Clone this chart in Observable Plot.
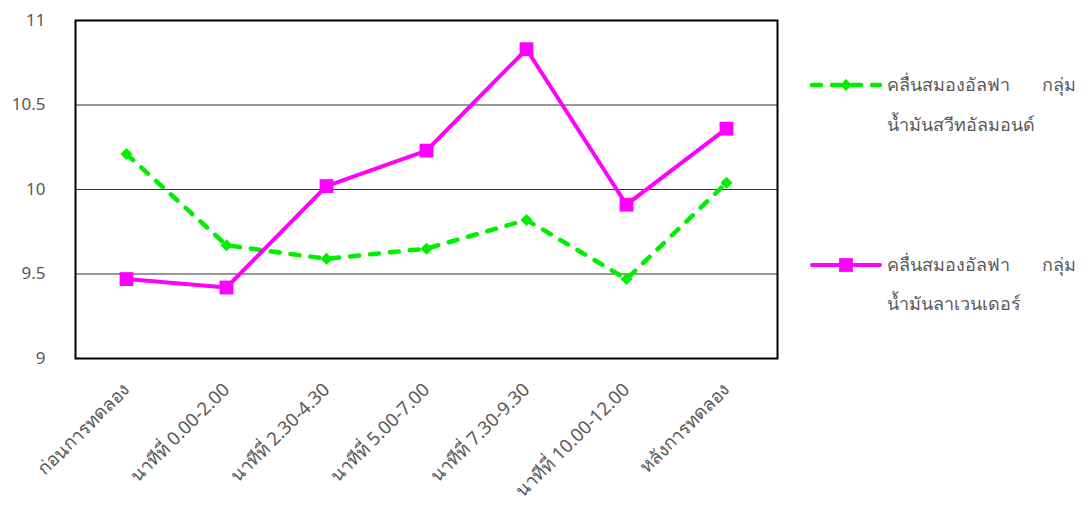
<!DOCTYPE html>
<html>
<head>
<meta charset="utf-8">
<script src="https://cdn.jsdelivr.net/npm/d3@7"></script>
<script src="https://cdn.jsdelivr.net/npm/@observablehq/plot@0.6"></script>
<style>
  html, body { margin: 0; padding: 0; background: #fff; }
  #wrap { position: relative; width: 1086px; height: 506px; font-family: "Noto Sans", Tahoma, sans-serif; }
  #legend { position: absolute; left: 0; top: 0; }
</style>
</head>
<body>
<div id="wrap"></div>
<script>
// Time periods of the session
const periods = [
  "ก่อนการทดลอง",
  "นาทีที่ 0.00-2.00",
  "นาทีที่ 2.30-4.30",
  "นาทีที่ 5.00-7.00",
  "นาทีที่ 7.30-9.30",
  "นาทีที่ 10.00-12.00",
  "หลังการทดลอง"
];

// Mean alpha brain-wave values per group
const almondValues   = [10.21, 9.67, 9.59, 9.65, 9.82, 9.47, 10.04];
const lavenderValues = [9.47, 9.42, 10.02, 10.23, 10.83, 9.91, 10.36];

const seriesNames = [
  ["คลื่นสมองอัลฟา", "กลุ่ม", "น้ำมันสวีทอัลมอนด์"],
  ["คลื่นสมองอัลฟา", "กลุ่ม", "น้ำมันลาเวนเดอร์"]
];

const yTicks = [9, 9.5, 10, 10.5, 11];
const gridValues = [9.5, 10, 10.5];

const GREEN = "#00ee00";
const MAGENTA = "#ff00ff";
const LABEL = "#595959";

const almond = periods.map((p, i) => ({period: p, value: almondValues[i]}));
const lavender = periods.map((p, i) => ({period: p, value: lavenderValues[i]}));

const chart = Plot.plot({
  width: 1086,
  height: 506,
  marginLeft: 75,
  marginRight: 309,
  marginTop: 20,
  marginBottom: 148,
  style: {fontFamily: "\"Noto Sans\", Tahoma, sans-serif", fontSize: "17px", background: "transparent"},
  x: {type: "point", domain: periods, padding: 0.5, label: null},
  y: {domain: [9, 11], label: null},
  marks: [
    Plot.ruleY(gridValues, {stroke: "#333", strokeWidth: 1}),
    Plot.frame({stroke: "#000", strokeWidth: 2}),
    Plot.axisY(yTicks, {tickSize: 0, tickPadding: 30, fontSize: 17, fill: LABEL, label: null,
      tickFormat: d3.format("~g")}),
    Plot.axisX({tickSize: 0, tickPadding: 28, tickRotate: -45, fontSize: 18.5, fill: LABEL, label: null}),
    Plot.line(almond, {x: "period", y: "value", stroke: GREEN, strokeWidth: 4.5,
      strokeDasharray: "9,11", strokeLinecap: "round"}),
    Plot.dot(almond, {x: "period", y: "value", symbol: "diamond2", r: 5.4, fill: GREEN, stroke: "none"}),
    Plot.line(lavender, {x: "period", y: "value", stroke: MAGENTA, strokeWidth: 4}),
    Plot.dot(lavender, {x: "period", y: "value", symbol: "square", r: 7.8, fill: MAGENTA, stroke: "none"})
  ]
});

const wrap = document.getElementById("wrap");
wrap.appendChild(chart);

// Legend on the right side
const legend = d3.select(wrap).append("svg")
  .attr("id", "legend")
  .attr("width", 1086)
  .attr("height", 506)
  .style("pointer-events", "none");

const entries = [
  {color: GREEN, dash: "9,11", symbol: d3.symbolDiamond2, size: 90, y: 85, y2: 125, names: seriesNames[0]},
  {color: MAGENTA, dash: null, symbol: d3.symbolSquare, size: 190, y: 265, y2: 304, names: seriesNames[1]}
];

for (const e of entries) {
  const g = legend.append("g");
  g.append("line")
    .attr("x1", 812).attr("x2", 880).attr("y1", e.y).attr("y2", e.y)
    .attr("stroke", e.color).attr("stroke-width", e.dash ? 4.5 : 4)
    .attr("stroke-linecap", "round")
    .attr("stroke-dasharray", e.dash);
  g.append("path")
    .attr("transform", `translate(846,${e.y})`)
    .attr("d", d3.symbol(e.symbol, e.size)())
    .attr("fill", e.color);
  const t = g.append("g").attr("font-size", 18).attr("fill", LABEL);
  t.append("text").attr("x", 887).attr("y", e.y).attr("dy", "0.35em").text(e.names[0]);
  t.append("text").attr("x", 1076).attr("y", e.y).attr("dy", "0.35em").attr("text-anchor", "end").text(e.names[1]);
  t.append("text").attr("x", 887).attr("y", e.y2).attr("dy", "0.35em").text(e.names[2]);
}
</script>
</body>
</html>
